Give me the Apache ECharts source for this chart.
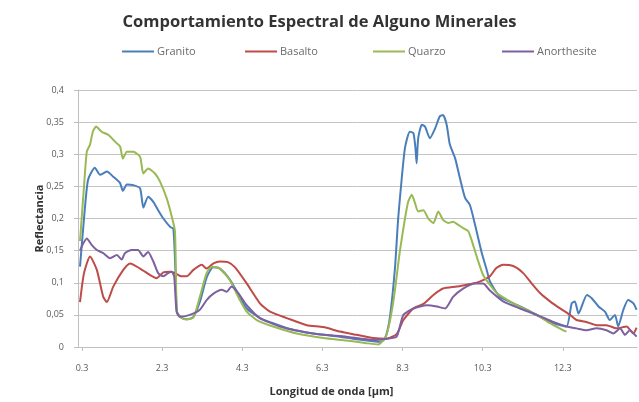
<!DOCTYPE html>
<html>
<head>
<meta charset="utf-8">
<script src="https://cdn.jsdelivr.net/npm/echarts@6/dist/echarts.min.js"></script>
<style>
  html, body { margin: 0; padding: 0; background: #ffffff; }
  #chart { width: 639px; height: 402px; }
</style>
</head>
<body>
<div id="chart"></div>
<script>
// Spectral reflectance curves: wavelength (µm) and reflectance per mineral
const graniteX = [0.25,0.35,0.45,0.62,0.75,0.92,1.08,1.25,1.32,1.42,1.58,1.75,1.83,1.95,2.08,2.2,2.33,2.5,2.58,2.63,2.67,2.77,2.9,3.07,3.24,3.41,3.57,3.74,3.99,4.24,4.41,4.74,5.07,5.49,6.06,6.74,7.06,7.56,7.74,7.86,7.98,8.11,8.19,8.28,8.36,8.48,8.57,8.62,8.65,8.69,8.78,8.86,8.98,9.11,9.23,9.31,9.4,9.48,9.61,9.73,9.86,9.98,10.11,10.27,10.4,10.48,10.73,11.06,11.4,11.73,12.06,12.39,12.52,12.6,12.69,12.9,13.02,13.19,13.35,13.47,13.6,13.68,13.81,13.93,14.06,14.14];
const graniteY = [0.125,0.2,0.26,0.279,0.268,0.273,0.265,0.255,0.243,0.253,0.252,0.247,0.217,0.234,0.226,0.213,0.2,0.187,0.184,0.12,0.055,0.046,0.043,0.046,0.07,0.108,0.124,0.122,0.105,0.078,0.06,0.045,0.037,0.028,0.021,0.016,0.013,0.009,0.008,0.013,0.045,0.123,0.2,0.263,0.31,0.335,0.333,0.31,0.286,0.325,0.346,0.343,0.325,0.34,0.359,0.361,0.346,0.315,0.294,0.263,0.232,0.221,0.19,0.148,0.12,0.102,0.078,0.068,0.058,0.047,0.037,0.032,0.068,0.071,0.052,0.081,0.076,0.063,0.055,0.042,0.05,0.032,0.058,0.073,0.068,0.058];

const basaltoX = [0.25,0.35,0.5,0.67,0.83,0.92,1.08,1.33,1.5,1.75,2.0,2.16,2.33,2.5,2.62,2.79,2.91,3.08,3.29,3.41,3.58,3.74,3.94,4.12,4.41,4.74,4.99,5.41,5.91,6.32,6.74,7.15,7.57,7.9,8.15,8.32,8.57,8.82,9.07,9.31,9.65,9.9,10.15,10.31,10.48,10.64,10.81,11.06,11.31,11.52,11.73,11.98,12.23,12.48,12.64,12.89,13.14,13.39,13.64,13.89,14.06,14.14];
const basaltoY = [0.07,0.115,0.141,0.12,0.078,0.07,0.094,0.12,0.13,0.122,0.112,0.107,0.116,0.117,0.115,0.11,0.11,0.12,0.128,0.122,0.13,0.133,0.132,0.124,0.099,0.068,0.055,0.045,0.034,0.031,0.024,0.019,0.014,0.013,0.02,0.042,0.06,0.067,0.081,0.091,0.094,0.097,0.1,0.104,0.11,0.123,0.128,0.126,0.115,0.099,0.084,0.071,0.06,0.05,0.042,0.039,0.034,0.034,0.029,0.032,0.021,0.03];

const quarzoX = [0.25,0.35,0.42,0.5,0.57,0.65,0.79,0.96,1.12,1.25,1.32,1.42,1.58,1.75,1.83,1.95,2.12,2.25,2.41,2.54,2.62,2.66,2.7,2.87,3.08,3.24,3.41,3.54,3.74,3.99,4.24,4.41,4.66,5.07,5.66,6.32,6.9,7.4,7.69,7.9,8.07,8.23,8.36,8.44,8.53,8.61,8.69,8.82,8.94,9.07,9.19,9.31,9.44,9.56,9.69,9.81,9.94,10.06,10.19,10.31,10.44,10.65,10.98,11.31,11.65,11.98,12.31,12.39];
const quarzoY = [0.165,0.25,0.304,0.315,0.335,0.343,0.335,0.33,0.32,0.312,0.293,0.304,0.304,0.296,0.27,0.278,0.27,0.257,0.232,0.203,0.18,0.06,0.05,0.043,0.046,0.078,0.115,0.125,0.122,0.104,0.073,0.055,0.042,0.032,0.021,0.014,0.01,0.006,0.004,0.019,0.071,0.148,0.2,0.226,0.237,0.224,0.211,0.213,0.2,0.193,0.211,0.198,0.193,0.195,0.19,0.185,0.18,0.159,0.133,0.112,0.1,0.084,0.071,0.06,0.05,0.037,0.026,0.024];

const anorthesiteX = [0.25,0.32,0.42,0.54,0.67,0.83,1.0,1.17,1.29,1.37,1.54,1.7,1.83,1.95,2.08,2.2,2.33,2.45,2.54,2.6,2.66,2.74,2.99,3.24,3.41,3.58,3.79,3.91,4.03,4.2,4.41,4.74,5.24,6.07,6.9,7.57,7.9,8.15,8.32,8.57,8.91,9.16,9.36,9.56,9.81,10.11,10.31,10.48,10.81,11.23,11.65,12.06,12.39,12.64,12.89,13.14,13.39,13.56,13.73,13.85,13.97,14.14];
const anorthesiteY = [0.15,0.16,0.169,0.159,0.151,0.146,0.138,0.143,0.136,0.146,0.151,0.151,0.141,0.148,0.133,0.115,0.11,0.115,0.117,0.11,0.055,0.047,0.05,0.058,0.073,0.083,0.089,0.086,0.094,0.084,0.065,0.045,0.032,0.021,0.016,0.011,0.013,0.016,0.05,0.06,0.065,0.063,0.06,0.078,0.091,0.099,0.099,0.088,0.071,0.06,0.05,0.039,0.032,0.029,0.026,0.029,0.026,0.021,0.029,0.019,0.026,0.016];

const xTickLabels = [0.3, 2.3, 4.3, 6.3, 8.3, 10.3, 12.3];

const seriesNames = ['Granito', 'Basalto', 'Quarzo', 'Anorthesite'];
const seriesColors = ['#4a7ebb', '#be4b48', '#98b954', '#7d60a0'];
const seriesX = [graniteX, basaltoX, quarzoX, anorthesiteX];
const seriesY = [graniteY, basaltoY, quarzoY, anorthesiteY];

// left offset of each legend entry
const legendLeft = [117, 240, 368, 497];

function pairs(xs, ys) {
  return xs.map((x, i) => [x, ys[i]]);
}

const chart = echarts.init(document.getElementById('chart'), null, { renderer: 'canvas' });

chart.setOption({
  animation: false,
  backgroundColor: '#ffffff',
  title: {
    text: 'Comportamiento Espectral de Alguno Minerales',
    left: 'center',
    top: 9,
    textStyle: {
      fontFamily: 'Open Sans',
      fontWeight: 'bold',
      fontSize: 16.5,
      color: '#333333'
    }
  },
  legend: seriesNames.map((name, i) => ({
    data: [name],
    left: legendLeft[i],
    top: 41,
    icon: 'rect',
    itemWidth: 32,
    itemHeight: 2,
    itemGap: 4,
    textStyle: {
      fontFamily: 'Open Sans',
      fontSize: 11,
      color: '#6a6a6a',
      padding: [0, 0, 0, -2]
    }
  })),
  grid: {
    left: 78,
    right: 2,
    top: 90,
    bottom: 55,
    outerBoundsMode: 'none'
  },
  xAxis: {
    type: 'value',
    min: 0.2,
    max: 14.15,
    name: 'Longitud de onda [µm]',
    nameLocation: 'middle',
    nameGap: 39,
    nameMoveOverlap: false,
    nameTextStyle: {
      fontFamily: 'Open Sans',
      fontWeight: 'bold',
      fontSize: 11,
      color: '#333333',
      padding: [0, 52, 0, 0]
    },
    axisLine: { show: true, lineStyle: { color: '#bfbfbf', width: 1 } },
    axisTick: {
      show: true,
      length: 4,
      customValues: xTickLabels,
      lineStyle: { color: '#bfbfbf' }
    },
    axisLabel: {
      customValues: xTickLabels,
      fontFamily: 'Open Sans',
      fontSize: 9,
      color: '#5a5a5a',
      margin: 17,
      formatter: v => v.toFixed(1)
    },
    splitLine: { show: false }
  },
  yAxis: {
    type: 'value',
    min: 0,
    max: 0.4,
    interval: 0.05,
    name: 'Reflectancia',
    nameLocation: 'middle',
    nameGap: 33,
    nameMoveOverlap: false,
    nameTextStyle: {
      fontFamily: 'Open Sans',
      fontWeight: 'bold',
      fontSize: 11,
      color: '#333333'
    },
    axisLine: { show: true, lineStyle: { color: '#bfbfbf', width: 1 } },
    axisTick: { show: true, length: 4, lineStyle: { color: '#bfbfbf' } },
    axisLabel: {
      fontFamily: 'Open Sans',
      fontSize: 9,
      color: '#5a5a5a',
      margin: 14,
      formatter: v => (Math.round(v * 100) / 100).toString().replace('.', ',')
    },
    splitLine: { show: true, lineStyle: { color: '#c4c4c4', width: 1 } }
  },
  series: seriesNames.map((name, i) => ({
    name: name,
    type: 'line',
    data: pairs(seriesX[i], seriesY[i]),
    showSymbol: false,
    symbol: 'none',
    smooth: 0.2,
    lineStyle: { color: seriesColors[i], width: 2 },
    itemStyle: { color: seriesColors[i] }
  }))
});
</script>
</body>
</html>
